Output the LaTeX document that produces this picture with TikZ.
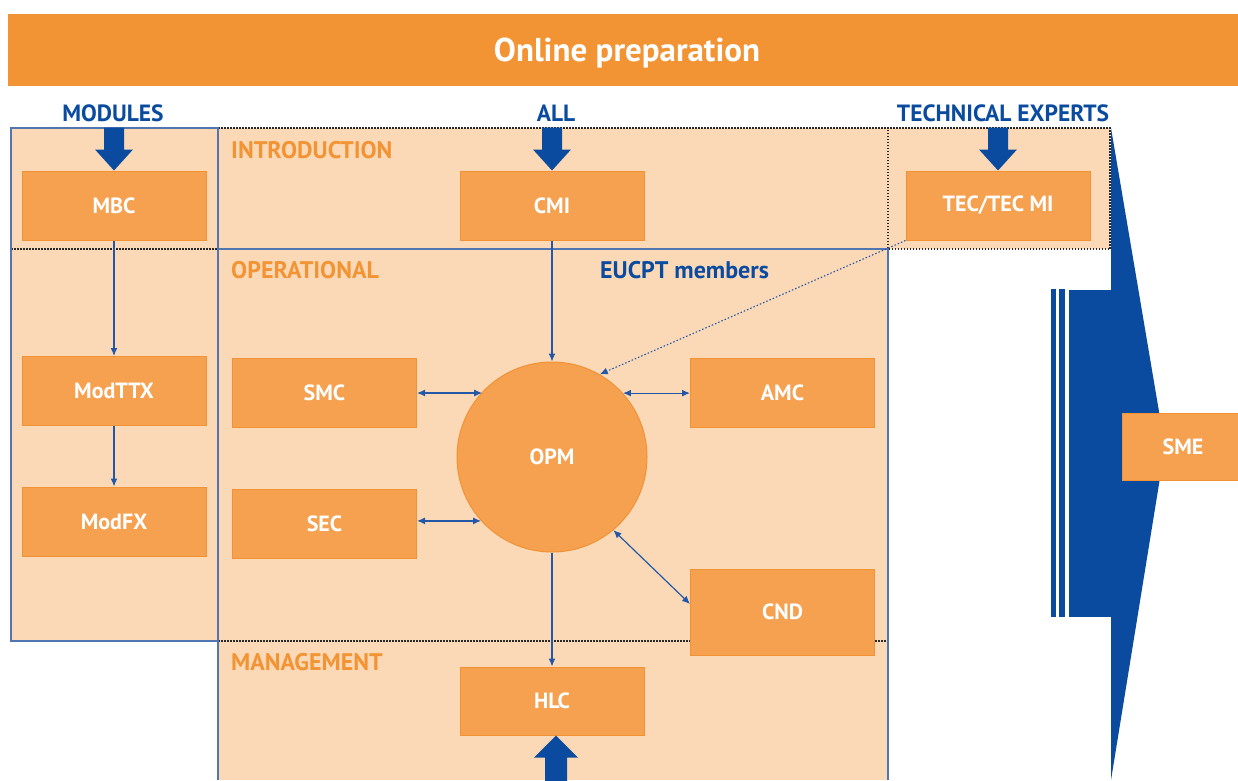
\documentclass[tikz,border=0pt]{standalone}
\usepackage{fontspec}
\setmainfont{PT Sans}
\usetikzlibrary{calc,arrows.meta}
\definecolor{banner}{RGB}{243,148,52}
\definecolor{boxfill}{RGB}{246,161,80}
\definecolor{boxline}{RGB}{241,146,52}
\definecolor{peach}{RGB}{251,217,183}
\definecolor{bblue}{RGB}{10,75,160}
\definecolor{lblue}{RGB}{35,88,168}
\definecolor{regblue}{RGB}{80,118,178}
\definecolor{dotgray}{RGB}{40,40,40}
\newcommand{\downarr}[1]{\fill[bblue] ($(#1)+(-10,-43)$) -- ++(0,22) -- ++(-9,0) -- (#1) -- ++(19,-21) -- ++(-9,0) -- ++(0,-22) -- cycle;}
\begin{document}
\begin{tikzpicture}[x=1pt,y=-1pt,
  box/.style={rectangle,fill=boxfill,draw=boxline,line width=1pt,minimum width=184pt,minimum height=69pt,text=white,font=\bfseries\fontsize{22}{24}\selectfont,inner sep=0pt},
  sect/.style={anchor=west,text=banner,font=\bfseries\fontsize{24}{26}\selectfont,inner sep=0pt},
  head/.style={text=bblue,font=\bfseries\fontsize{23.5}{26}\selectfont,inner sep=0pt},
  regb/.style={draw=regblue,line width=1.2pt},
  dotb/.style={draw=dotgray,line width=1.1pt,dash pattern=on 1.5pt off 1.5pt},
  conn/.style={draw=lblue,line width=1.2pt,-{Latex[length=8pt,width=7pt]}},
  bconn/.style={draw=lblue,line width=1.2pt,{Latex[length=8pt,width=7pt]}-{Latex[length=8pt,width=7pt]}}
]
\useasboundingbox (0,0) rectangle (1238,780);
% banner
\node[fill=banner,minimum width=1230pt,minimum height=72pt,inner sep=0pt] (banner) at (623,50) {};
\node[text=white,font=\bfseries\fontsize{33}{36}\selectfont,inner sep=0pt] (bannertext) at ($(banner.center)+(4,3)$) {Online preparation};
% regions
\fill[peach] (11,128) rectangle (218,641);
\fill[peach] (218,128) rectangle (888,780);
\fill[peach] (888,128) rectangle (1110,249);
\draw[dotb] (218,128) -- (1110,128) -- (1110,249) -- (888,249) -- (888,128);
\draw[dotb] (11,249) -- (218,249);
\draw[dotb] (218,641) -- (888,641);
\draw[regb] (11,128) rectangle (218,641);
\draw[regb] (218,128) -- (218,780);
\draw[regb] (218,249) -- (888,249) -- (888,780);
% big blue arrow
\fill[bblue] (1111,128) -- (1165,447) -- (1111,780) -- cycle;
\fill[bblue] (1069,290) rectangle (1111,617);
\fill[bblue] (1051,289) rectangle (1056,617);
\fill[bblue] (1059,289) rectangle (1065,617);
% header labels
\node[head] (modules) at (113,113) {MODULES};
\node[head] (all) at (556,113) {ALL};
\node[head] (techexp) at (1003,113) {TECHNICAL EXPERTS};
% section labels
\node[sect] (intro) at (231,150) {INTRODUCTION};
\node[sect] (oper) at (231,270) {OPERATIONAL};
\node[sect] (mgmt) at (231,662) {MANAGEMENT};
\node[sect,text=bblue] (eucpt) at (600,270) {EUCPT members};
% boxes
\node[box] (mbc) at (114,205.5) {MBC};
\node[box] (cmi) at (552,205.5) {CMI};
\node[box] (tec) at (998,205.5) {TEC/TEC MI};
\node[box] (modttx) at (114,391) {ModTTX};
\node[box] (modfx) at (114,521.5) {ModFX};
\node[box] (smc) at (324.5,393) {SMC};
\node[box] (sec) at (324.5,523.5) {SEC};
\node[box] (amc) at (782.5,393) {AMC};
\node[box,minimum height=86pt] (cnd) at (782.5,612) {CND};
\node[box,minimum height=68pt] (hlc) at (552,701) {HLC};
\node[box,minimum width=122pt,minimum height=67pt] (sme) at (1183,446.5) {SME};
\node[circle,fill=boxfill,draw=boxline,line width=1pt,minimum size=190pt,inner sep=0pt,text=white,font=\bfseries\fontsize{22}{24}\selectfont] (opm) at (552,457) {OPM};
% thick arrows
\downarr{mbc.north}
\downarr{cmi.north}
\downarr{tec.north}
\fill[bblue] ($(hlc.south)+(4,0)$) -- ++(22,22) -- ++(-11,0) -- ++(0,30) -- ++(-22,0) -- ++(0,-30) -- ++(-11,0) -- cycle;
% connectors
\draw[conn] (mbc.south) -- (modttx.north);
\draw[conn] (modttx.south) -- (modfx.north);
\draw[conn] (cmi.south) -- (opm.north);
\draw[bconn] (smc.east) -- (smc.east -| opm.137.7);
\draw[bconn] (sec.east |- opm.222.3) -- (opm.222.3);
\draw[bconn] (opm.42.3) -- (opm.42.3 -| amc.west);
\draw[bconn] (opm.-50) -- ($(cnd.west)+(0,-8)$);
\draw[conn] (opm.south) -- (hlc.north);
\draw[draw=lblue,line width=1.1pt,dash pattern=on 1.5pt off 2pt,-{Latex[length=8pt,width=7pt]}] (tec.south west) -- (opm.60);
\end{tikzpicture}
\end{document}
